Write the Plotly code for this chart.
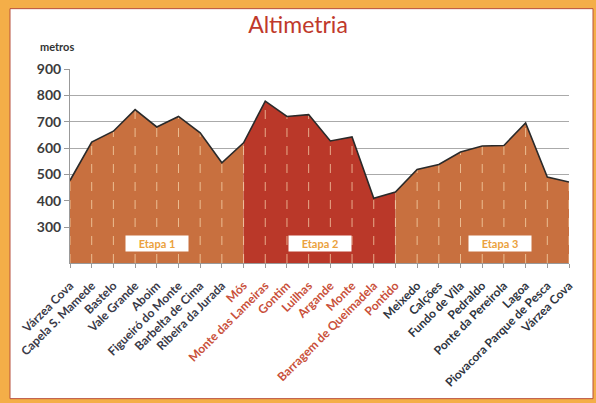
import plotly.graph_objects as go

places = ["Várzea Cova", "Capela S. Mamede", "Bastelo", "Vale Grande", "Aboim",
          "Figueiró do Monte", "Barbelta de Cima", "Ribeira da Jurada", "Mós",
          "Monte das Lameiras", "Gontim", "Luilhas", "Argande", "Monte",
          "Barragem de Queimadela", "Pontido", "Meixedo", "Calções", "Fundo de Vila",
          "Pedraldo", "Ponte da Pereirola", "Lagoa", "Piovacora Parque de Pesca",
          "Várzea Cova"]
altitude = [477, 623, 664, 746, 680, 720, 658, 544, 620, 778, 720, 727, 627, 642,
            410, 433, 519, 538, 585, 608, 610, 695, 490, 471]
stage_bounds = [(0, 8), (8, 15), (15, 23)]
stage_names = ["Etapa 1", "Etapa 2", "Etapa 3"]
stage_label_pos = [4.0, 11.5, 19.8]
stage_fill = ["#C8703F", "#BA3829", "#C8703F"]
stage_text_color = ["#3A3A48", "#C9503A", "#2E3440"]

Y_MIN, Y_MAX = 164, 900
x = list(range(len(places)))

fig = go.Figure()

for (a, b), col in zip(stage_bounds, stage_fill):
    fig.add_trace(go.Scatter(x=x[a:b + 1], y=altitude[a:b + 1], mode="lines",
                             line=dict(width=0, color=col), fill="tozeroy",
                             fillcolor=col, hoverinfo="skip", showlegend=False))

# vertical drop lines from each point
vx, vy = [], []
for i, v in zip(x, altitude):
    vx += [i, i, None]
    vy += [Y_MIN, v, None]
fig.add_trace(go.Scatter(x=vx, y=vy, mode="lines",
                         line=dict(color="rgba(255,232,190,0.65)", width=1, dash="dash"),
                         hoverinfo="skip", showlegend=False))

fig.add_trace(go.Scatter(x=x, y=altitude, mode="lines",
                         line=dict(color="#2A2A2A", width=1.6),
                         showlegend=False))

tick_colors = []
for i in x:
    if i <= 7:
        tick_colors.append(stage_text_color[0])
    elif i <= 15:
        tick_colors.append(stage_text_color[1])
    else:
        tick_colors.append(stage_text_color[2])
ticktext = [f'<span style="color:{c}">{p}</span>' for p, c in zip(places, tick_colors)]

for name, pos in zip(stage_names, stage_label_pos):
    fig.add_annotation(x=pos, y=239, xref="x", yref="y", text="<b>" + name + "</b>",
                       showarrow=False, bgcolor="white", width=60, height=13,
                       font=dict(family="Lato", size=11, color="#EBA13C"))

L, R, T, B = 70, 27, 68.5, 140
W, H = 596, 403
pw, ph = W - L - R, H - T - B

def px_x(p):
    return (p - L) / pw

def px_y(p):
    return (H - B - p) / ph

fig.add_shape(type="rect", xref="paper", yref="paper",
              x0=px_x(10), x1=px_x(593), y0=px_y(399), y1=px_y(8),
              fillcolor="white", line=dict(color="#B8503C", width=1), layer="below")

fig.add_annotation(xref="paper", yref="paper", x=px_x(38), y=px_y(46),
                   xanchor="left", yanchor="middle", showarrow=False,
                   text="<b>metros</b>", font=dict(family="Lato", size=11, color="#333333"))

fig.update_layout(
    width=W, height=H,
    margin=dict(l=L, r=R, t=T, b=B),
    paper_bgcolor="#F4AE48",
    plot_bgcolor="rgba(0,0,0,0)",
    title=dict(text="Altimetria", x=0.5, xanchor="center", y=1 - 25 / H, yanchor="middle",
               font=dict(family="Lato", size=23, color="#C0392B")),
    font=dict(family="Lato"),
)
fig.update_xaxes(range=[0, len(places) - 1], tickmode="array", tickvals=x, ticktext=ticktext,
                 tickangle=-45, ticks="outside", ticklen=4, tickcolor="#999999",
                 ticklabelstandoff=6, automargin=False,
                 showgrid=False, showline=True, linecolor="#999999", zeroline=False,
                 tickfont=dict(family="Lato", size=12, color="#3A3A48", weight="bold"))
fig.update_yaxes(range=[Y_MIN, Y_MAX], tickvals=[300, 400, 500, 600, 700, 800, 900],
                 ticks="outside", ticklen=5, tickcolor="#999999",
                 showgrid=True, gridcolor="#AAAAAA", gridwidth=1,
                 showline=True, linecolor="#999999", zeroline=False,
                 tickfont=dict(family="Lato", size=14, color="#3C3C3C", weight="bold"))

fig.write_html("out.html", config={"displayModeBar": False},
               post_script="document.body.style.margin='0';")
